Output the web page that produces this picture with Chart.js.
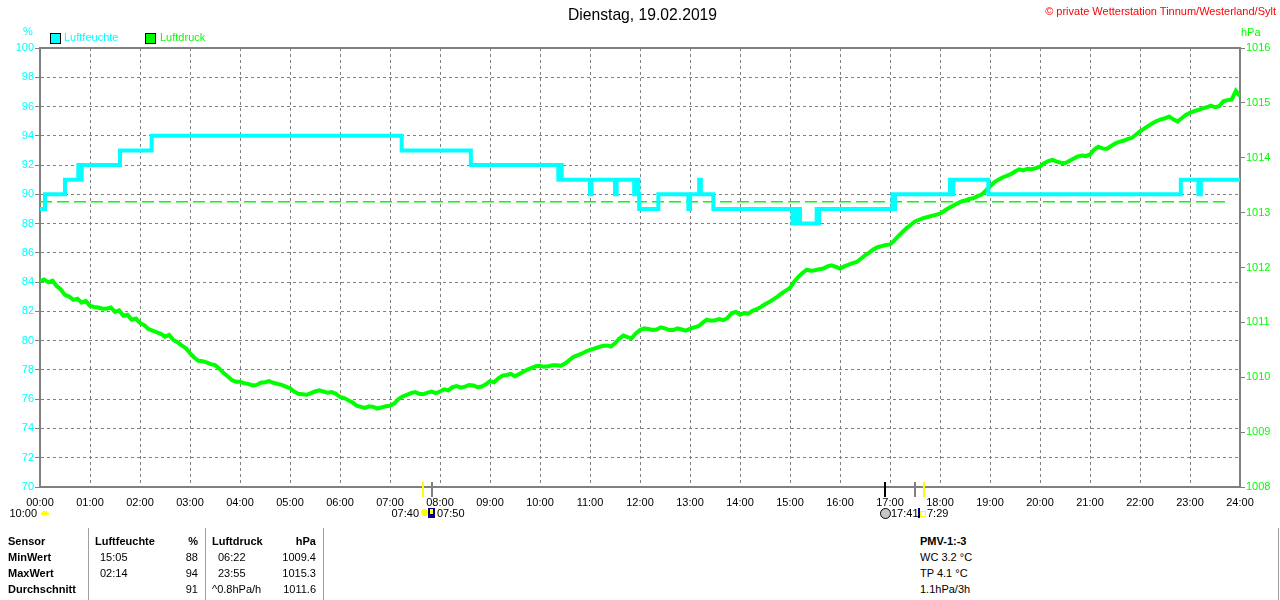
<!DOCTYPE html>
<html>
<head>
<meta charset="utf-8">
<script src="https://cdn.jsdelivr.net/npm/chart.js@4.4.1/dist/chart.umd.min.js"></script>
<style>
body { margin:0; width:1280px; height:600px; background:#fff; position:relative; overflow:hidden;
       font-family:"Liberation Sans", Arial, sans-serif; font-size:11px; color:#000; }
.t { position:absolute; white-space:nowrap; line-height:13px; }
.b { font-weight:bold; }
.r { text-align:right; }
.sep { position:absolute; top:528px; width:1px; height:72px; background:#a0a0a0; }
.box { position:absolute; width:9px; height:9px; border:1px solid #000; }
</style>
</head>
<body>

<canvas id="myChart" width="1280" height="530" style="position:absolute;left:0;top:0"></canvas>

<div class="t" style="left:0;width:1285px;top:6px;text-align:center;font-size:15.7px;line-height:18px">Dienstag, 19.02.2019</div>
<div class="t" style="right:4px;top:5px;color:#ff0000">© private Wetterstation Tinnum/Westerland/Sylt</div>
<div class="t" style="left:23px;top:25px;color:#00ffff">%</div>
<div class="t" style="left:1241px;top:26px;color:#00ff00">hPa</div>

<div class="box" style="left:50px;top:33px;background:#00ffff"></div>
<div class="t" style="left:64px;top:31px;color:#00ffff">Luftfeuchte</div>
<div class="box" style="left:145px;top:33px;background:#00ff00"></div>
<div class="t" style="left:160px;top:31px;color:#00ff00">Luftdruck</div>

<!-- sun / moon row -->
<div class="t r" style="left:0;width:37px;top:507px">10:00</div>
<div style="position:absolute;left:41px;top:511px;width:8px;height:4px;background:#ffff00;border-radius:4px 4px 0 0"></div>
<div class="t r" style="left:380px;width:39px;top:507px">07:40</div>
<div style="position:absolute;left:421px;top:509px;width:7px;height:7px;background:#ffff00;border-radius:50%"></div>
<div style="position:absolute;left:428px;top:508px;width:7px;height:10px;background:#000080"></div>
<div style="position:absolute;left:430px;top:509px;width:3px;height:5px;background:#ffff00"></div>
<div class="t" style="left:437px;top:507px">07:50</div>
<div style="position:absolute;left:880px;top:508px;width:9px;height:9px;background:#c8c8c8;border:1px solid #000;border-radius:50%"></div>
<div class="t" style="left:891px;top:507px">17:41</div>
<div style="position:absolute;left:918px;top:508px;width:2px;height:10px;background:#000080"></div>
<div style="position:absolute;left:920px;top:511px;width:4px;height:4px;border:1px solid #ffff00"></div>
<div class="t" style="left:927px;top:507px">7:29</div>

<!-- stats table -->
<div class="sep" style="left:88px"></div>
<div class="sep" style="left:205px"></div>
<div class="sep" style="left:323px"></div>
<div class="sep" style="left:1278px"></div>

<div class="t b" style="left:8px;top:535px">Sensor</div>
<div class="t b" style="left:8px;top:551px">MinWert</div>
<div class="t b" style="left:8px;top:567px">MaxWert</div>
<div class="t b" style="left:8px;top:583px">Durchschnitt</div>

<div class="t b" style="left:95px;top:535px">Luftfeuchte</div>
<div class="t b r" style="left:160px;width:38px;top:535px">%</div>
<div class="t" style="left:100px;top:551px">15:05</div>
<div class="t r" style="left:160px;width:38px;top:551px">88</div>
<div class="t" style="left:100px;top:567px">02:14</div>
<div class="t r" style="left:160px;width:38px;top:567px">94</div>
<div class="t r" style="left:160px;width:38px;top:583px">91</div>

<div class="t b" style="left:212px;top:535px">Luftdruck</div>
<div class="t b r" style="left:270px;width:46px;top:535px">hPa</div>
<div class="t" style="left:218px;top:551px">06:22</div>
<div class="t r" style="left:270px;width:46px;top:551px">1009.4</div>
<div class="t" style="left:218px;top:567px">23:55</div>
<div class="t r" style="left:270px;width:46px;top:567px">1015.3</div>
<div class="t" style="left:212px;top:583px">^0.8hPa/h</div>
<div class="t r" style="left:270px;width:46px;top:583px">1011.6</div>

<div class="t b" style="left:920px;top:535px">PMV-1:-3</div>
<div class="t" style="left:920px;top:551px">WC 3.2 °C</div>
<div class="t" style="left:920px;top:567px">TP 4.1 °C</div>
<div class="t" style="left:920px;top:583px">1.1hPa/3h</div>

<script>
// humidity (%) change points, minutes after midnight
const humTimes = [0,6,30,46,48,50,96,134,434,517,622,624,626,660,662,690,692,713,715,718,719,742,778,780,791,793,808,
                  903,905,907,909,912,932,933,935,1023,1024,1026,1092,1094,1096,1138,1369,1390,1393,1440];
const humValues = [89,90,91,92,91,92,93,94,93,92,91,92,91,90,91,90,91,90,91,90,89,90,89,90,91,90,89,
                   88,89,88,89,88,89,88,89,90,89,90,91,90,91,90,91,90,91,91];

// pressure (hPa), one reading every 5 minutes from 00:00 to 24:00 (one row = half an hour)
const pressStep = 5;
const pressure = [
  1011.75,1011.78,1011.73,1011.76,1011.66,1011.60,
  1011.50,1011.47,1011.41,1011.43,1011.36,1011.39,
  1011.30,1011.28,1011.27,1011.25,1011.25,1011.27,
  1011.19,1011.22,1011.12,1011.14,1011.05,1011.07,
  1010.99,1010.95,1010.88,1010.85,1010.82,1010.79,
  1010.74,1010.77,1010.68,1010.64,1010.58,1010.53,
  1010.44,1010.36,1010.30,1010.29,1010.27,1010.24,
  1010.22,1010.16,1010.08,1010.02,1009.95,1009.92,
  1009.92,1009.89,1009.88,1009.85,1009.86,1009.90,
  1009.91,1009.93,1009.90,1009.88,1009.86,1009.83,
  1009.80,1009.74,1009.70,1009.69,1009.68,1009.71,
  1009.74,1009.76,1009.74,1009.72,1009.73,1009.70,
  1009.64,1009.62,1009.58,1009.54,1009.48,1009.46,
  1009.44,1009.47,1009.46,1009.43,1009.45,1009.47,
  1009.48,1009.52,1009.60,1009.65,1009.68,1009.71,
  1009.73,1009.70,1009.69,1009.72,1009.74,1009.71,
  1009.74,1009.78,1009.76,1009.82,1009.84,1009.81,
  1009.83,1009.86,1009.85,1009.82,1009.83,1009.87,
  1009.93,1009.91,1009.98,1010.03,1010.04,1010.06,
  1010.02,1010.06,1010.10,1010.14,1010.17,1010.20,
  1010.21,1010.19,1010.20,1010.22,1010.22,1010.21,
  1010.25,1010.31,1010.37,1010.40,1010.43,1010.47,
  1010.50,1010.52,1010.55,1010.57,1010.58,1010.56,
  1010.62,1010.70,1010.76,1010.73,1010.71,1010.80,
  1010.86,1010.89,1010.88,1010.86,1010.87,1010.91,
  1010.89,1010.86,1010.86,1010.89,1010.87,1010.85,
  1010.88,1010.91,1010.93,1010.99,1011.05,1011.03,
  1011.04,1011.06,1011.04,1011.08,1011.17,1011.19,
  1011.14,1011.17,1011.16,1011.21,1011.24,1011.28,
  1011.33,1011.37,1011.42,1011.47,1011.53,1011.58,
  1011.63,1011.74,1011.83,1011.90,1011.96,1011.94,
  1011.95,1011.97,1011.98,1012.02,1012.04,1012.01,
  1011.98,1012.02,1012.05,1012.08,1012.10,1012.16,
  1012.22,1012.27,1012.33,1012.37,1012.39,1012.41,
  1012.42,1012.49,1012.57,1012.65,1012.72,1012.78,
  1012.84,1012.87,1012.90,1012.92,1012.94,1012.96,
  1012.98,1013.03,1013.08,1013.12,1013.16,1013.20,
  1013.22,1013.25,1013.26,1013.30,1013.33,1013.40,
  1013.48,1013.55,1013.60,1013.64,1013.67,1013.70,
  1013.75,1013.79,1013.77,1013.80,1013.79,1013.81,
  1013.84,1013.90,1013.94,1013.96,1013.93,1013.91,
  1013.90,1013.94,1013.98,1014.02,1014.04,1014.03,
  1014.06,1014.15,1014.20,1014.17,1014.16,1014.21,
  1014.26,1014.29,1014.31,1014.34,1014.36,1014.42,
  1014.48,1014.53,1014.58,1014.63,1014.67,1014.70,
  1014.72,1014.75,1014.70,1014.66,1014.72,1014.78,
  1014.82,1014.85,1014.87,1014.90,1014.92,1014.95,
  1014.92,1014.94,1015.03,1015.05,1015.06,1015.22,
  1015.12
];

const refPressure = 1013.2;
const refTimes = [0, 1428];

// left axis (%) and right axis (hPa) ranges, x ticks every hour
const humTicks = [70, 100, 2];
const pressTicks = [1008, 1016, 1];
const hourStep = 60;

// sunrise / sunset markers on the time axis: minute and colour
const markerTimes = [460, 470, 1014, 1050, 1061];
const markerColors = ['#ffff00', '#808080', '#000000', '#808080', '#ffff00'];

const GRAY = '#808080';

const framePlugin = {
  id: 'frame',
  afterDraw(chart) {
    const ctx = chart.ctx, a = chart.chartArea, xs = chart.scales.x;
    ctx.save();
    ctx.strokeStyle = GRAY;
    ctx.lineWidth = 2;
    ctx.beginPath();
    ctx.moveTo(a.left, a.top);
    ctx.lineTo(a.right, a.top);
    ctx.stroke();
    markerTimes.forEach((m, i) => {
      const x = Math.round(xs.getPixelForValue(m));
      ctx.strokeStyle = markerColors[i];
      ctx.beginPath();
      ctx.moveTo(x, a.bottom - 5);
      ctx.lineTo(x, a.bottom + 10);
      ctx.stroke();
    });
    ctx.restore();
  }
};

function drawChart() {
  const ctx = document.getElementById('myChart').getContext('2d');

  new Chart(ctx, {
    type: 'line',
    data: {
      datasets: [{
        label: 'Luftfeuchte',
        data: humTimes.map((t, i) => ({x: t, y: humValues[i]})),
        yAxisID: 'y',
        borderColor: '#00ffff',
        borderWidth: 4,
        stepped: true,
        pointRadius: 0,
        order: 0
      }, {
        label: 'Luftdruck',
        data: pressure.map((v, i) => ({x: i * pressStep, y: v})),
        yAxisID: 'y1',
        borderColor: '#00ff00',
        borderWidth: 4,
        pointRadius: 0,
        tension: 0,
        order: 1
      }, {
        label: 'ref',
        data: refTimes.map(t => ({x: t, y: refPressure})),
        yAxisID: 'y1',
        borderColor: '#00ff00',
        borderWidth: 1.5,
        borderDash: [12, 5],
        pointRadius: 0,
        order: 2
      }]
    },
    options: {
      responsive: false,
      devicePixelRatio: 1,
      animation: false,
      layout: { padding: { top: 48, left: 0, right: 0, bottom: 0 } },
      plugins: { legend: { display: false }, tooltip: { enabled: false }, title: { display: false } },
      scales: {
        x: {
          type: 'linear',
          min: 0,
          max: 1440,
          afterFit: s => { s.height = 43; },
          border: { color: GRAY, width: 2, dash: [3, 3] },
          grid: { color: GRAY, lineWidth: 1, drawTicks: false },
          ticks: {
            stepSize: hourStep, autoSkip: false, maxRotation: 0, padding: 9,
            color: '#000', font: { family: 'Liberation Sans', size: 11 },
            callback: v => String(Math.floor(v / 60)).padStart(2, '0') + ':00'
          }
        },
        y: {
          position: 'left',
          min: humTicks[0],
          max: humTicks[1],
          afterFit: s => { s.width = 40; },
          border: { color: GRAY, width: 2, dash: [3, 3] },
          grid: { color: GRAY, lineWidth: 1, tickLength: 5, tickColor: GRAY, tickBorderDash: [] },
          ticks: { stepSize: humTicks[2], padding: 1, color: '#00ffff', font: { family: 'Liberation Sans', size: 11 } }
        },
        y1: {
          position: 'right',
          min: pressTicks[0],
          max: pressTicks[1],
          afterFit: s => { s.width = 40; },
          border: { color: GRAY, width: 2 },
          grid: { drawOnChartArea: false, tickLength: 5, tickColor: GRAY },
          ticks: {
            stepSize: pressTicks[2], padding: 1, color: '#00ff00', font: { family: 'Liberation Sans', size: 11 },
            callback: v => String(v)
          }
        }
      }
    },
    plugins: [framePlugin]
  });
}

drawChart();
</script>
</body>
</html>
